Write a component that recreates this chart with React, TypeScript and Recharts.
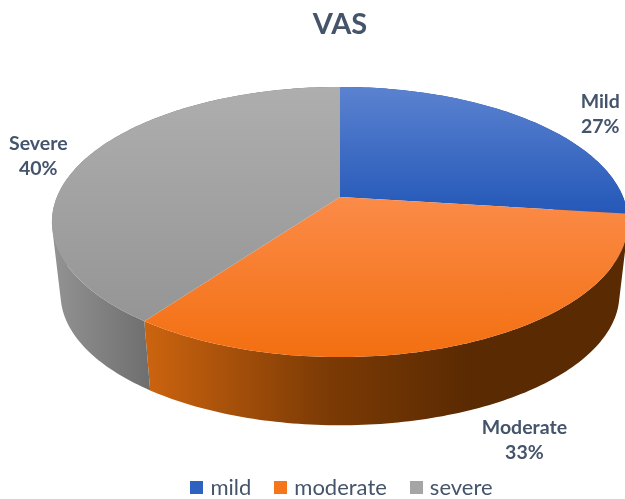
import React from 'react';
import { PieChart, Pie, Legend, Cell } from 'recharts';

const legendNames = ['mild', 'moderate', 'severe'];
const labelNames = ['Mild', 'Moderate', 'Severe'];
const values = [27, 33, 40];

const chartData = legendNames.map((name, i) => ({ name, label: labelNames[i], value: values[i] }));

const topFills = ['url(#topBlue)', 'url(#topOrange)', 'url(#topGray)'];
const wallFills = ['#234f9f', 'url(#wallOrange)', 'url(#wallGray)'];
const legendColors = ['#2f62c0', '#f5751a', '#a5a5a5'];
const labelNudges = [
  { dx: 71, dy: -12 },
  { dx: 49, dy: 93 },
  { dx: -47, dy: -9 },
];

const TEXT = '#44546a';
const FONT = 'Lato, "Open Sans", sans-serif';

// Perspective of the tilted disc
const PERSP = 0.185;
const X_K = 0.983;
const Y_K = 0.453;
const BOTTOM_SCALE = 0.97;
const DEPTH = 73;

const project = (cx: number, cy: number, r: number, deg: number, scale = 1, drop = 0) => {
  const t = ((90 - deg) * Math.PI) / 180;
  const u = Math.sin(t);
  const v = -Math.cos(t);
  const d = 1 - PERSP * v;
  return [cx + (scale * r * X_K * u) / d, cy + drop + (scale * r * Y_K * v) / d];
};

const arcPoints = (p: any, scale = 1, drop = 0) => {
  const out: number[][] = [];
  const steps = Math.max(2, Math.ceil(Math.abs(p.endAngle - p.startAngle)));
  for (let i = 0; i <= steps; i++) {
    const a = p.startAngle + ((p.endAngle - p.startAngle) * i) / steps;
    out.push(project(p.cx, p.cy, p.outerRadius, a, scale, drop));
  }
  return out;
};

const toPath = (pts: number[][]) =>
  'M' + pts.map((q) => `${q[0].toFixed(2)},${q[1].toFixed(2)}`).join('L') + 'Z';

const signedArea = (pts: number[][]) =>
  pts.reduce((s, q, i) => {
    const n = pts[(i + 1) % pts.length];
    return s + q[0] * n[1] - n[0] * q[1];
  }, 0);

const TopFace = (p: any) => (
  <path d={toPath([[p.cx, p.cy], ...arcPoints(p)])} fill={p.fill} stroke="none" />
);

// The wall is swept quad by quad, all wound the same way in one path,
// so its outline follows the disc's tangent without seams
const Wall = (p: any) => {
  const top = arcPoints(p);
  const bottom = arcPoints(p, BOTTOM_SCALE, DEPTH);
  const d = top
    .slice(1)
    .map((q, i) => {
      const quad = [top[i], q, bottom[i + 1], bottom[i]];
      return toPath(signedArea(quad) < 0 ? quad.reverse() : quad);
    })
    .join('');
  return <path d={d} fill={p.fill} stroke="none" fillRule="nonzero" />;
};

const renderLabel = (p: any) => {
  const [x0, y0] = project(p.cx, p.cy, p.outerRadius, p.midAngle);
  const n = labelNudges[p.index];
  const x = x0 + n.dx;
  const y = y0 + n.dy;
  return (
    <text x={x} textAnchor="middle" fill={TEXT} fontFamily={FONT} fontWeight={700} fontSize={19.5}>
      <tspan x={x} y={y}>{p.payload.label}</tspan>
      <tspan x={x} y={y + 25}>{`${p.value}%`}</tspan>
    </text>
  );
};

export default function App() {
  return (
    <div style={{ position: 'absolute', left: 0, top: 0, width: 625, height: 499, overflow: 'hidden', filter: 'blur(0.4px)' }}>
      <PieChart width={625} height={499} margin={{ top: 0, right: 0, bottom: 0, left: 0 }}>
        <defs>
          <linearGradient id="topBlue" x1="0" y1="0" x2="0" y2="1">
            <stop offset="0" stopColor="#5b82d0" />
            <stop offset="1" stopColor="#2458b8" />
          </linearGradient>
          <linearGradient id="topOrange" x1="0" y1="0" x2="0" y2="1">
            <stop offset="0" stopColor="#fb8b48" />
            <stop offset="1" stopColor="#f36f10" />
          </linearGradient>
          <linearGradient id="topGray" x1="0" y1="0" x2="0" y2="1">
            <stop offset="0" stopColor="#aeaeae" />
            <stop offset="1" stopColor="#959595" />
          </linearGradient>
          <linearGradient id="wallOrange" gradientUnits="userSpaceOnUse" x1="145" y1="0" x2="470" y2="0">
            <stop offset="0" stopColor="#cc640f" />
            <stop offset="0.55" stopColor="#7d3b05" />
            <stop offset="1" stopColor="#5a2a02" />
          </linearGradient>
          <linearGradient id="wallGray" gradientUnits="userSpaceOnUse" x1="55" y1="0" x2="150" y2="0">
            <stop offset="0" stopColor="#929292" />
            <stop offset="1" stopColor="#6e6e6e" />
          </linearGradient>
        </defs>
        <text x={340} y={34} textAnchor="middle" fill={TEXT} fontFamily={FONT} fontWeight={700} fontSize={29}>
          VAS
        </text>
        <Pie
          data={chartData}
          dataKey="value"
          nameKey="name"
          cx={340}
          cy={197}
          innerRadius={0}
          outerRadius={288}
          startAngle={90}
          endAngle={-270}
          stroke="none"
          legendType="none"
          isAnimationActive={false}
          shape={Wall}
        >
          {chartData.map((d, i) => (
            <Cell key={d.name} fill={wallFills[i]} />
          ))}
        </Pie>
        <Pie
          data={chartData}
          dataKey="value"
          nameKey="name"
          cx={340}
          cy={197}
          innerRadius={0}
          outerRadius={288}
          startAngle={90}
          endAngle={-270}
          stroke="none"
          isAnimationActive={false}
          shape={TopFace}
          label={renderLabel}
          labelLine={false}
        >
          {chartData.map((d, i) => (
            <Cell key={d.name} fill={topFills[i]} />
          ))}
        </Pie>
        <Legend
          content={() => (
            <div style={{ display: 'flex', justifyContent: 'center', gap: 23, paddingLeft: 58, fontFamily: FONT, fontSize: 22, color: TEXT, lineHeight: '20px', height: 20 }}>
              {legendNames.map((n, i) => (
                <span key={n} style={{ display: 'flex', alignItems: 'center', gap: 7 }}>
                  <span style={{ width: 13, height: 13, background: legendColors[i], display: 'inline-block' }} />
                  {n}
                </span>
              ))}
            </div>
          )}
          wrapperStyle={{ left: 0, width: 625, top: 477 }}
        />
      </PieChart>
    </div>
  );
}
